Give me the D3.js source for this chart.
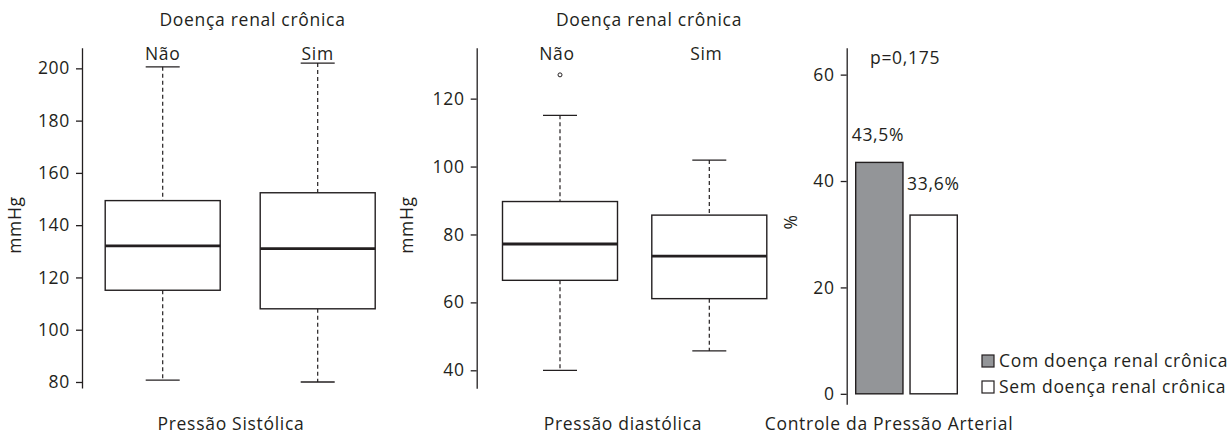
<!DOCTYPE html>
<html><head><meta charset="utf-8">
<script src="https://cdn.jsdelivr.net/npm/d3@7"></script>
<style>
html,body{margin:0;padding:0;background:#fff;}
svg text{font-family:"Open Sans","Noto Sans",sans-serif;fill:#231f20;letter-spacing:0.7px;}
</style></head>
<body><svg id="c" width="1228" height="435"></svg>
<script>
// ---- data ----
const groups = ["Não", "Sim"];
const groupTitle = "Doença renal crônica";
// systolic: [lowWhisker, Q1, median, Q3, highWhisker]
const systolic = [[80.7, 115.1, 132.1, 149.4, 200.6], [80.0, 108.0, 131.0, 152.4, 202.0]];
const diastolic = [[40.0, 66.5, 77.2, 89.7, 115.1], [45.7, 61.1, 73.6, 85.7, 101.9]];
const diastolicOutliers = [[127], []];
const systolicTicks = [80, 100, 120, 140, 160, 180, 200];
const diastolicTicks = [40, 60, 80, 100, 120];
const controlSeries = ["Com doença renal crônica", "Sem doença renal crônica"];
const controlValues = [43.5, 33.6];
const controlColors = ["#939598", "#ffffff"];
const controlTicks = [0, 20, 40, 60];
const pValue = "p=0,175";
const panelTitles = ["Pressão Sistólica", "Pressão diastólica", "Controle da Pressão Arterial"];
const yLabels = ["mmHg", "mmHg", "%"];

const svg = d3.select("#c");
const ink = "#231f20";
const FS = 17.5;
const ptBR = d3.formatLocale({decimal: ",", thousands: ".", grouping: [3], currency: ["", ""]});
const fmt1 = ptBR.format(".1f");

function styleAxis(g) {
  g.selectAll("path,line").attr("stroke", ink).attr("stroke-width", 1.3);
  g.selectAll("text").attr("font-size", FS).style("fill", ink).attr("font-family", null);
}

function boxPanel(opt) {
  const y = d3.scaleLinear().domain(opt.domain).range([opt.bottom, opt.top]);
  const x = d3.scalePoint().domain(groups).range(opt.xr);
  const g = svg.append("g");
  const ax = g.append("g").attr("transform", `translate(${opt.axisX},0)`)
    .call(d3.axisLeft(y).tickValues(opt.ticks).tickSize(6).tickSizeOuter(0).tickPadding(6));
  styleAxis(ax);
  const bw = opt.boxW, cw = 34;
  opt.data.forEach((d, i) => {
    const cx = x(groups[i]);
    const [lo, q1, med, q3, hi] = d;
    g.append("line").attr("x1", cx).attr("x2", cx).attr("y1", y(hi)).attr("y2", y(q3))
      .attr("stroke", ink).attr("stroke-width", 1.2).attr("stroke-dasharray", "4,3");
    g.append("line").attr("x1", cx).attr("x2", cx).attr("y1", y(q1)).attr("y2", y(lo))
      .attr("stroke", ink).attr("stroke-width", 1.2).attr("stroke-dasharray", "4,3");
    [lo, hi].forEach(v => g.append("line").attr("x1", cx - cw / 2).attr("x2", cx + cw / 2)
      .attr("y1", y(v)).attr("y2", y(v)).attr("stroke", ink).attr("stroke-width", 1.3));
    g.append("rect").attr("x", cx - bw / 2).attr("width", bw).attr("y", y(q3)).attr("height", y(q1) - y(q3))
      .attr("fill", "#fff").attr("stroke", ink).attr("stroke-width", 1.4);
    g.append("line").attr("x1", cx - bw / 2).attr("x2", cx + bw / 2).attr("y1", y(med)).attr("y2", y(med))
      .attr("stroke", ink).attr("stroke-width", 2.8);
    (opt.outliers ? opt.outliers[i] : []).forEach(v => g.append("circle").attr("cx", cx).attr("cy", y(v))
      .attr("r", 2).attr("fill", "none").attr("stroke", ink).attr("stroke-width", 1));
    g.append("text").attr("x", cx + opt.lblDx).attr("y", 60).attr("text-anchor", "middle").attr("font-size", FS).text(groups[i]);
  });
  g.append("text").attr("x", opt.titleX).attr("y", 26).attr("text-anchor", "middle").attr("font-size", FS).text(groupTitle);
  g.append("text").attr("x", opt.xTitleX).attr("y", 430).attr("text-anchor", "middle").attr("font-size", FS).text(opt.xTitle);
  g.append("text").attr("transform", `translate(${opt.yLabX},${opt.yLabY}) rotate(-90)`).attr("text-anchor", "middle")
    .attr("font-size", FS).text(opt.yLabel);
}

boxPanel({domain: [77.7, 207.9], top: 47.7, bottom: 388, axisX: 82, xr: [162.7, 317.7], boxW: 115,
  ticks: systolicTicks, data: systolic, titleX: 252.5, xTitleX: 231, xTitle: panelTitles[0], yLabel: yLabels[0],
  yLabX: 21, yLabY: 225, lblDx: 0});
boxPanel({domain: [34.7, 135.0], top: 47.7, bottom: 388.3, axisX: 476.7, xr: [560, 709.3], boxW: 115,
  ticks: diastolicTicks, data: diastolic, outliers: diastolicOutliers, titleX: 649, xTitleX: 623, xTitle: panelTitles[1],
  yLabel: yLabels[1], yLabX: 413, yLabY: 225, lblDx: -3});

// ---- bar panel ----
(function () {
  const y = d3.scaleLinear().domain([-1.97, 65.06]).range([404.3, 47.7]);
  const x = d3.scaleBand().domain(controlSeries).range([855.7, 957.3]).paddingInner(0.13).paddingOuter(0);
  const g = svg.append("g");
  const ax = g.append("g").attr("transform", "translate(846.7,0)")
    .call(d3.axisLeft(y).tickValues(controlTicks).tickSize(6).tickSizeOuter(0).tickPadding(6));
  styleAxis(ax);
  g.selectAll("rect.bar").data(controlValues).join("rect").attr("class", "bar")
    .attr("x", (d, i) => x(controlSeries[i])).attr("width", x.bandwidth())
    .attr("y", d => y(d)).attr("height", d => y(0) - y(d))
    .attr("fill", (d, i) => controlColors[i]).attr("stroke", ink).attr("stroke-width", 1.4);
  g.selectAll("text.val").data(controlValues).join("text").attr("class", "val")
    .attr("x", (d, i) => x(controlSeries[i]) - (i === 0 ? 4 : 3))
    .attr("y", (d, i) => y(d) - (i === 0 ? 21 : 25))
    .attr("font-size", FS).text(d => fmt1(d) + "%");
  g.append("text").attr("x", 870).attr("y", 64).attr("font-size", FS).text(pValue);
  g.append("text").attr("x", 889).attr("y", 430).attr("text-anchor", "middle").attr("font-size", FS).text(panelTitles[2]);
  g.append("text").attr("transform", "translate(797,222) rotate(-90)").attr("text-anchor", "middle")
    .attr("font-size", FS).text(yLabels[2]);
  controlSeries.forEach((s, i) => {
    const ly = 355 + i * 26;
    g.append("rect").attr("x", 982).attr("y", ly).attr("width", 12).attr("height", 12)
      .attr("fill", controlColors[i]).attr("stroke", ink).attr("stroke-width", 1.2);
    g.append("text").attr("x", 999).attr("y", ly + 12).attr("font-size", FS).text(s);
  });
})();
</script></body></html>
